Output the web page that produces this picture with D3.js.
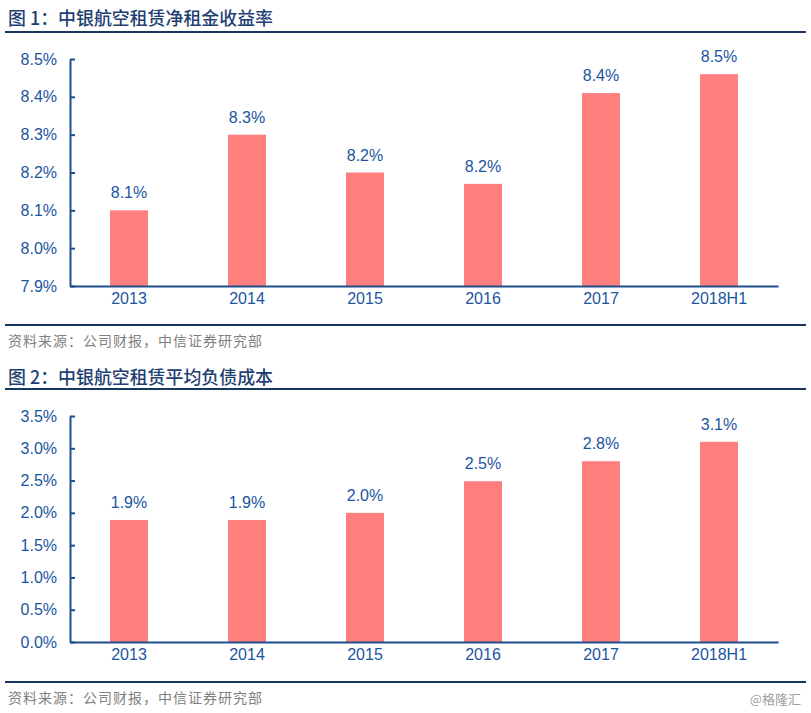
<!DOCTYPE html>
<html>
<head>
<meta charset="utf-8">
<script src="https://cdn.jsdelivr.net/npm/d3@7"></script>
<style>
  body { margin: 0; background: #fff; }
  svg { display: block; }
</style>
</head>
<body>
<svg id="chart" width="811" height="713"></svg>
<script>
const categories = ['2013', '2014', '2015', '2016', '2017', '2018H1']
// 图1 净租金收益率 (%)
const yieldValues = [8.10, 8.30, 8.20, 8.17, 8.41, 8.46]
const yieldLabels = ['8.1%', '8.3%', '8.2%', '8.2%', '8.4%', '8.5%']
const yieldTicks = [7.9, 8.0, 8.1, 8.2, 8.3, 8.4, 8.5]
// 图2 平均负债成本 (%)
const costValues = [1.89, 1.89, 2.0, 2.49, 2.8, 3.1]
const costLabels = ['1.9%', '1.9%', '2.0%', '2.5%', '2.8%', '3.1%']
const costTicks = [0, 0.5, 1.0, 1.5, 2.0, 2.5, 3.0, 3.5]

const titles = ['图 1：中银航空租赁净租金收益率', '图 2：中银航空租赁平均负债成本']
const sourceText = '资料来源：公司财报，中信证券研究部'

const blue = '#1b55a0'
const axisColor = '#1f4e8c'
const navy = '#17375e'
const titleColor = '#1f3f73'
const barColor = '#ff7f7f'
const numFont = '"Liberation Sans", Arial, sans-serif'
const cjkFont = '"Noto Sans CJK SC", sans-serif'

const svg = d3.select('#chart')

const x = d3.scaleBand()
  .domain(categories)
  .range([70, 778])
const barWidth = 38

// 标题、分隔线、来源
function drawFrame(top, title, lineY, sourceLineY) {
  svg.append('text')
    .attr('x', 8)
    .attr('y', top)
    .attr('dominant-baseline', 'central')
    .attr('font-family', cjkFont)
    .attr('font-size', 18)
    .attr('font-weight', 500)
    .attr('fill', titleColor)
    .attr('textLength', 265)
    .attr('lengthAdjust', 'spacingAndGlyphs')
    .text(title)

  svg.append('line')
    .attr('x1', 5).attr('x2', 806)
    .attr('y1', lineY).attr('y2', lineY)
    .attr('stroke', navy)
    .attr('stroke-width', 2)

  svg.append('line')
    .attr('x1', 5).attr('x2', 806)
    .attr('y1', sourceLineY).attr('y2', sourceLineY)
    .attr('stroke', navy)
    .attr('stroke-width', 2)

  svg.append('text')
    .attr('x', 8)
    .attr('y', sourceLineY + 15)
    .attr('dominant-baseline', 'central')
    .attr('font-family', cjkFont)
    .attr('font-size', 14)
    .attr('fill', '#808080')
    .attr('textLength', 254)
    .attr('lengthAdjust', 'spacing')
    .text(sourceText)
}

function drawBars(values, labels, ticks, yRange) {
  const y = d3.scaleLinear()
    .domain([ticks[0], ticks[ticks.length - 1]])
    .range(yRange)

  const g = svg.append('g')

  g.selectAll('rect')
    .data(values)
    .enter()
    .append('rect')
    .attr('x', (d, i) => x(categories[i]) + x.bandwidth() / 2 - barWidth / 2)
    .attr('y', d => y(d))
    .attr('width', barWidth)
    .attr('height', d => y(ticks[0]) - y(d))
    .attr('fill', barColor)

  g.selectAll('.val')
    .data(values)
    .enter()
    .append('text')
    .attr('class', 'val')
    .attr('x', (d, i) => x(categories[i]) + x.bandwidth() / 2)
    .attr('y', d => y(d) - 12)
    .attr('text-anchor', 'middle')
    .attr('font-family', numFont)
    .attr('font-size', 16)
    .attr('fill', blue)
    .text((d, i) => labels[i])

  // y 轴，刻度向内
  const yAxis = d3.axisLeft(y)
    .tickValues(ticks)
    .tickSize(-5)
    .tickSizeOuter(0)
    .tickPadding(13)
    .tickFormat(d => `${d.toFixed(1)}%`)

  const ya = g.append('g')
    .attr('transform', 'translate(70,0)')
    .call(yAxis)
  ya.select('.domain').attr('stroke', axisColor).attr('stroke-width', 2)
  ya.selectAll('.tick line').attr('stroke', axisColor).attr('stroke-width', 2)
  ya.selectAll('.tick text')
    .attr('font-family', numFont)
    .attr('font-size', 16)
    .attr('fill', blue)

  // x 轴
  const xAxis = d3.axisBottom(x).tickSize(0).tickPadding(7)
  const xa = g.append('g')
    .attr('transform', `translate(0,${y(ticks[0])})`)
    .call(xAxis)
  xa.select('.domain').attr('stroke', axisColor).attr('stroke-width', 2)
  xa.selectAll('.tick text')
    .attr('font-family', numFont)
    .attr('font-size', 16)
    .attr('fill', blue)
}

drawFrame(17, titles[0], 32, 325)
drawBars(yieldValues, yieldLabels, yieldTicks, [286, 59])

drawFrame(376, titles[1], 389, 682)
drawBars(costValues, costLabels, costTicks, [642, 416])

svg.append('text')
  .attr('x', 801)
  .attr('y', 698)
  .attr('text-anchor', 'end')
  .attr('dominant-baseline', 'central')
  .attr('font-family', cjkFont)
  .attr('font-size', 13)
  .attr('fill', '#a0a0a0')
  .text('@格隆汇')
</script>
</body>
</html>
